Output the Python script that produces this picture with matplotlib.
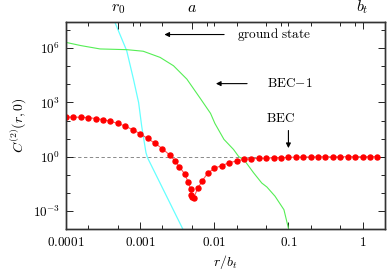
import matplotlib
matplotlib.use("Agg")
import matplotlib.pyplot as plt
import matplotlib.ticker as mticker
import numpy as np

plt.rcParams['mathtext.fontset'] = 'cm'
plt.rcParams['font.family'] = 'serif'
plt.rcParams['font.size'] = 9.5

# BEC (red points)
bec_r = [1.00e-4, 1.26e-4, 1.58e-4, 2.00e-4, 2.51e-4, 3.16e-4, 3.98e-4, 5.01e-4,
         6.31e-4, 7.94e-4, 1.00e-3, 1.26e-3, 1.58e-3, 2.00e-3, 2.51e-3, 2.95e-3,
         3.39e-3, 3.98e-3, 4.47e-3, 4.79e-3, 4.90e-3, 5.01e-3, 5.25e-3, 6.03e-3,
         6.92e-3, 8.13e-3, 1.00e-2, 1.26e-2, 1.58e-2, 2.00e-2, 2.51e-2, 3.16e-2,
         3.98e-2, 5.01e-2, 6.31e-2, 7.94e-2, 0.100, 0.126, 0.158, 0.200, 0.251,
         0.316, 0.398, 0.501, 0.631, 0.794, 1.00, 1.26, 1.58]
bec_c = [155, 155, 151, 145, 129, 112, 91, 69,
         49, 31, 18.6, 10.2, 5.6, 2.75, 1.23, 0.59,
         0.275, 0.112, 0.038, 0.0166, 0.0079, 0.0059, 0.0052, 0.0186,
         0.048, 0.12, 0.23, 0.32, 0.46, 0.58, 0.71, 0.78,
         0.80, 0.83, 0.87, 0.88, 0.91, 0.95, 0.96, 0.97, 0.98,
         0.98, 0.99, 0.99, 0.99, 1.0, 1.0, 1.0, 1.0]

# BEC-1 (green line)
bec1_r = [1.0e-4, 1.58e-4, 2.88e-4, 6.6e-4, 1.1e-3, 1.86e-3, 2.82e-3, 4.27e-3,
          6.46e-3, 8.9e-3, 1.02e-2, 1.35e-2, 1.82e-2, 2.14e-2, 2.51e-2, 3.39e-2,
          4.37e-2, 5.13e-2, 6.6e-2, 8.7e-2, 0.1, 0.107]
bec1_c = [2.1e6, 1.4e6, 9.1e5, 8.3e5, 6.8e5, 3.1e5, 1.07e5, 1.95e4,
          1.7e3, 250, 69, 9.1, 2.5, 1.0, 0.69, 0.129,
          0.035, 0.021, 0.0065, 0.00117, 1.1e-4, 3e-5]

# ground state (cyan line)
gs_r = [3.8e-4, 4.37e-4, 6.6e-4, 8.13e-4, 9.55e-4, 1.05e-3, 1.2e-3, 1.26e-3,
        3.72e-3, 4.17e-3]
gs_c = [1e8, 4.2e7, 7.2e5, 1.95e4, 977, 49, 1.66, 0.87, 1.1e-4, 4e-5]

bottom_ticks = [1e-4, 1e-3, 1e-2, 1e-1, 1]
bottom_labels = ['$0.0001$', '$0.001$', '$0.01$', '$0.1$', '$1$']
top_ticks = [5e-4, 5e-3, 1]
top_labels = ['$r_0$', '$a$', '$b_t$']
y_ticks = [1e-3, 1, 1e3, 1e6]
y_labels = ['$10^{-3}$', '$10^{0}$', '$10^{3}$', '$10^{6}$']

fig = plt.figure(figsize=(3.88, 2.72), dpi=100)
ax = fig.add_axes([0.170, 0.158, 0.822, 0.761])

ax.axhline(1, color='#777777', lw=0.6, ls=(0, (4, 3)), zorder=1)
ax.plot(gs_r, gs_c, color='#66ffff', lw=0.9, zorder=2)
ax.plot(bec1_r, bec1_c, color='#55ee55', lw=0.8, zorder=2)
ax.plot(bec_r, bec_c, color='#ff5555', lw=0.8, marker='o', ms=3.6,
        mfc='#ff0000', mec='#ff0000', zorder=3)

ax.set_xscale('log')
ax.set_yscale('log')
ax.set_xlim(1e-4, 2)
ax.set_ylim(1e-4, 2.8e7)

ax.set_xticks(bottom_ticks)
ax.set_xticklabels(bottom_labels)
ax.xaxis.set_minor_locator(mticker.LogLocator(base=10, subs=[2, 5]))
ax.xaxis.set_minor_formatter(mticker.NullFormatter())
ax.set_yticks(y_ticks)
ax.set_yticklabels(y_labels)
ax.yaxis.set_minor_locator(mticker.LogLocator(base=10, subs=[1.0], numticks=30))
ax.yaxis.set_minor_formatter(mticker.NullFormatter())
ax.tick_params(which='major', direction='in', length=5, width=0.6,
               top=False, right=True, labelsize=9.5, pad=5)
ax.tick_params(which='minor', direction='in', length=3, width=0.6,
               top=False, right=True)
ax.tick_params(axis='y', which='major', pad=4)

ax2 = ax.twiny()
ax2.set_xscale('log')
ax2.set_xlim(ax.get_xlim())
ax2.set_xticks(top_ticks)
ax2.set_xticklabels(top_labels, fontsize=11.5)
ax2.xaxis.set_minor_locator(mticker.LogLocator(base=10, subs=[1, 2, 5, 8]))
ax2.xaxis.set_minor_formatter(mticker.NullFormatter())
ax2.tick_params(which='major', direction='in', length=5, width=0.6, pad=4)
ax2.tick_params(which='minor', direction='in', length=3, width=0.6)

for a in (ax, ax2):
    for s in a.spines.values():
        s.set_linewidth(1.0)
        s.set_color('#333333')

ax.set_xlabel('$r/b_t$', fontsize=10, labelpad=3)
ax.set_ylabel('$C^{(2)}(r,0)$', fontsize=10, labelpad=4)

arrow = dict(arrowstyle='-|>', color='k', lw=0.8, mutation_scale=7)
ax.annotate('', xy=(0.00195, 5.7e6), xytext=(0.0148, 5.7e6), arrowprops=arrow)
ax.text(0.0202, 5.7e6, r'$\mathrm{ground\ state}$', ha='left', va='center', fontsize=9.5)
ax.annotate('', xy=(0.00966, 1.1e4), xytext=(0.0302, 1.1e4), arrowprops=arrow)
ax.text(0.0513, 1.1e4, r'$\mathrm{BEC{-}1}$', ha='left', va='center', fontsize=9.5)
ax.annotate('', xy=(0.1, 2.1), xytext=(0.1, 40), arrowprops=arrow)
ax.text(0.079, 126, r'$\mathrm{BEC}$', ha='center', va='center', fontsize=9.5)

fig.savefig('out.png', dpi=100)
